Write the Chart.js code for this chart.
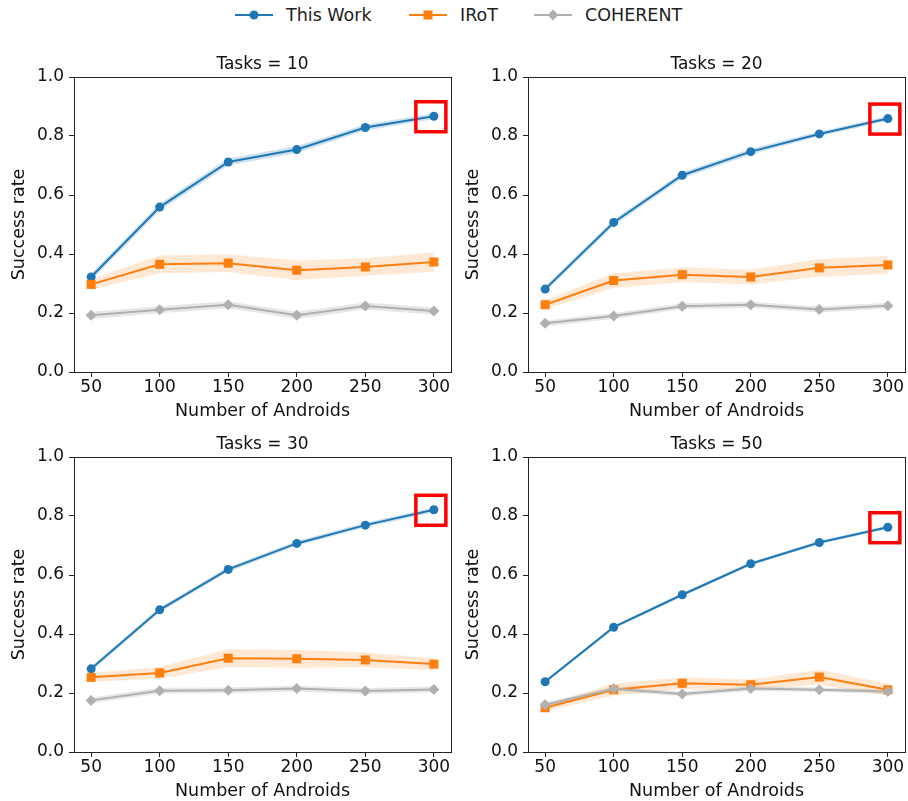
<!DOCTYPE html>
<html>
<head>
<meta charset="utf-8">
<script src="https://cdn.jsdelivr.net/npm/chart.js@4.4.1/dist/chart.umd.min.js"></script>
<style>
  body { margin: 0; background: #fff; width: 908px; height: 801px; position: relative; overflow: hidden; font-family: "DejaVu Sans", sans-serif; }
  .panel { position: absolute; width: 454px; height: 380px; }
  .item { position: absolute; top: 4px; display: flex; align-items: center; font-size: 17.5px; color: #222; line-height: 22px; }
  .item svg { margin-right: 13px; }
</style>
</head>
<body>
<div id="legend"></div>
<div class="panel" style="left:0;top:40px"><canvas id="c0" width="454" height="380"></canvas></div>
<div class="panel" style="left:454px;top:40px"><canvas id="c1" width="454" height="380"></canvas></div>
<div class="panel" style="left:0;top:420px"><canvas id="c2" width="454" height="380"></canvas></div>
<div class="panel" style="left:454px;top:420px"><canvas id="c3" width="454" height="380"></canvas></div>
<script>
const androids = [50, 100, 150, 200, 250, 300];
const taskCounts = [10, 20, 30, 50];
const yTicks = [0, 0.2, 0.4, 0.6, 0.8, 1.0];

// mean success rate, one row per task count
const thisWork = [
  [0.322, 0.559, 0.712, 0.754, 0.829, 0.867],
  [0.281, 0.507, 0.667, 0.747, 0.807, 0.859],
  [0.282, 0.482, 0.619, 0.707, 0.769, 0.821],
  [0.238, 0.423, 0.533, 0.638, 0.710, 0.762]
];
const iroT = [
  [0.297, 0.365, 0.369, 0.345, 0.356, 0.373],
  [0.228, 0.310, 0.330, 0.322, 0.353, 0.363],
  [0.253, 0.268, 0.318, 0.316, 0.312, 0.298],
  [0.150, 0.211, 0.233, 0.228, 0.254, 0.211]
];
const coherent = [
  [0.192, 0.211, 0.228, 0.192, 0.224, 0.207],
  [0.165, 0.190, 0.223, 0.228, 0.212, 0.225],
  [0.175, 0.208, 0.209, 0.215, 0.207, 0.212],
  [0.160, 0.214, 0.197, 0.215, 0.211, 0.205]
];

// half-width of the shaded spread around each mean
const thisWorkErr = [
  [0.012, 0.012, 0.012, 0.012, 0.010, 0.010],
  [0.010, 0.010, 0.010, 0.010, 0.008, 0.008],
  [0.008, 0.008, 0.008, 0.008, 0.008, 0.008],
  [0.006, 0.006, 0.006, 0.006, 0.006, 0.006]
];
const iroTErr = [
  [0.017, 0.030, 0.030, 0.033, 0.030, 0.033],
  [0.015, 0.025, 0.025, 0.025, 0.030, 0.030],
  [0.015, 0.020, 0.030, 0.030, 0.025, 0.020],
  [0.010, 0.020, 0.020, 0.018, 0.025, 0.020]
];
const coherentErr = [
  [0.012, 0.012, 0.012, 0.012, 0.012, 0.012],
  [0.010, 0.010, 0.010, 0.010, 0.010, 0.010],
  [0.010, 0.010, 0.010, 0.010, 0.010, 0.010],
  [0.008, 0.008, 0.008, 0.008, 0.008, 0.008]
];

const series = [
  { label: 'This Work', color: '#1f77b4', band: 'rgba(31,119,180,0.22)', marker: 'circle', radius: 4.5, values: thisWork, err: thisWorkErr, legendX: 235 },
  { label: 'IRoT', color: '#ff7f0e', band: 'rgba(255,127,14,0.18)', marker: 'rect', radius: 6.4, values: iroT, err: iroTErr, legendX: 409 },
  { label: 'COHERENT', color: '#b0b0b0', band: 'rgba(160,160,160,0.25)', marker: 'rectRot', radius: 5.5, values: coherent, err: coherentErr, legendX: 534 }
];

const pts = (ys) => ys.map((y, i) => ({ x: androids[i], y: y }));
const FONT = 'DejaVu Sans';

// legend across the top
const legendSvg = {
  circle: c => `<circle cx="19" cy="8" r="4.5" fill="${c}"/>`,
  rect: c => `<rect x="14.5" y="3.5" width="9" height="9" fill="${c}"/>`,
  rectRot: c => `<polygon points="19,2.5 24.5,8 19,13.5 13.5,8" fill="${c}"/>`
};
document.getElementById('legend').innerHTML = series.map(s =>
  `<span class="item" style="left:${s.legendX}px"><svg width="38" height="16"><line x1="0" y1="8" x2="38" y2="8" stroke="${s.color}" stroke-width="2"/>${legendSvg[s.marker](s.color)}</svg>${s.label}</span>`
).join('');

// full box around the plot area, plus the panel heading
const frame = {
  id: 'frame',
  afterDraw(chart) {
    const { ctx, chartArea: a } = chart;
    ctx.save();
    ctx.strokeStyle = '#222';
    ctx.lineWidth = 1;
    ctx.strokeRect(Math.round(a.left) + 0.5, Math.round(a.top) + 0.5, Math.round(a.right - a.left), Math.round(a.bottom - a.top));
    ctx.fillStyle = '#111';
    ctx.font = '17px "' + FONT + '"';
    ctx.textAlign = 'center';
    ctx.textBaseline = 'alphabetic';
    ctx.fillText(chart.options.plugins.panelTitle, (a.left + a.right) / 2, a.top - 8);
    ctx.restore();
  }
};

// red box around the final This Work point
const highlight = {
  id: 'highlight',
  afterDatasetsDraw(chart) {
    const meta = chart.getDatasetMeta(2);
    const last = meta.data[meta.data.length - 1];
    const ctx = chart.ctx;
    ctx.save();
    ctx.strokeStyle = '#ff0000';
    ctx.lineWidth = 3.5;
    ctx.strokeRect(last.x - 18, last.y - 14.5, 30, 30);
    ctx.restore();
  }
};

function buildChart(k) {
  const lines = [];
  const bands = [];
  series.slice().reverse().forEach(s => {
    lines.push({
      label: s.label,
      data: pts(s.values[k]),
      borderColor: s.color,
      backgroundColor: s.color,
      borderWidth: 2,
      pointStyle: s.marker,
      pointRadius: s.radius,
      pointBorderWidth: 0,
      fill: false
    });
  });
  series.forEach(s => {
    const upper = s.values[k].map((v, i) => v + s.err[k][i]);
    const lower = s.values[k].map((v, i) => v - s.err[k][i]);
    bands.push({ data: pts(upper), borderWidth: 0, pointRadius: 0, fill: false });
    bands.push({ data: pts(lower), borderWidth: 0, pointRadius: 0, fill: '-1', backgroundColor: s.band });
  });

  new Chart(document.getElementById('c' + k), {
    type: 'line',
    data: { datasets: lines.concat(bands) },
    options: {
      responsive: false,
      animation: false,
      layout: { autoPadding: false, padding: { top: 37, left: 0, right: 3, bottom: 0 } },
      plugins: {
        legend: { display: false },
        tooltip: { enabled: false },
        panelTitle: 'Tasks = ' + taskCounts[k]
      },
      scales: {
        x: {
          type: 'linear',
          min: 37.5,
          max: 312.5,
          afterBuildTicks: scale => { scale.ticks = androids.map(v => ({ value: v })); },
          afterFit: scale => { scale.height = 48; scale.paddingLeft = 0; scale.paddingRight = 0; },
          grid: { drawOnChartArea: false, tickLength: 5, color: '#222' },
          border: { color: '#222' },
          ticks: { color: '#111', padding: 0, maxRotation: 0, font: { family: FONT, size: 17 } },
          title: {
            display: true,
            text: 'Number of Androids',
            color: '#111',
            font: { family: FONT, size: 17.5 },
            padding: { top: 0, bottom: -2 }
          }
        },
        y: {
          min: 0,
          max: 1,
          afterBuildTicks: scale => { scale.ticks = yTicks.map(v => ({ value: v })); },
          afterFit: scale => { scale.width = 74; },
          grid: { drawOnChartArea: false, tickLength: 5, color: '#222' },
          border: { color: '#222' },
          ticks: { color: '#111', padding: 5, callback: v => v.toFixed(1), font: { family: FONT, size: 17 } },
          title: {
            display: true,
            text: 'Success rate',
            color: '#111',
            font: { family: FONT, size: 17.5 },
            padding: { top: 9, bottom: 0 }
          }
        }
      }
    },
    plugins: [frame, highlight]
  });
}

taskCounts.forEach((t, k) => buildChart(k));
</script>
</body>
</html>
